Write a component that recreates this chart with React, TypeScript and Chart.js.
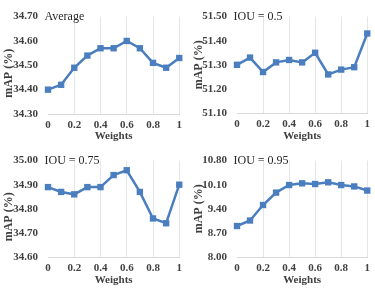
import React, { useEffect, useRef } from "react";
import { Chart, registerables } from "chart.js";
Chart.register(...registerables);

const weights = [0, 0.1, 0.2, 0.3, 0.4, 0.5, 0.6, 0.7, 0.8, 0.9, 1];
const xTicks = [0, 0.2, 0.4, 0.6, 0.8, 1];
const averageValues = [34.4, 34.42, 34.49, 34.54, 34.57, 34.57, 34.6, 34.57, 34.51, 34.49, 34.53];
const iou50Values = [51.3, 51.33, 51.27, 51.31, 51.32, 51.31, 51.35, 51.26, 51.28, 51.29, 51.43];
const iou75Values = [34.89, 34.87, 34.86, 34.89, 34.89, 34.94, 34.96, 34.87, 34.76, 34.74, 34.9];
const iou95Values = [8.9, 9.06, 9.51, 9.87, 10.09, 10.14, 10.12, 10.17, 10.09, 10.05, 9.93];
const averageTicks = [34.3, 34.4, 34.5, 34.6, 34.7];
const iou50Ticks = [51.1, 51.2, 51.3, 51.4, 51.5];
const iou75Ticks = [34.6, 34.7, 34.8, 34.9, 35.0];
const iou95Ticks = [8.0, 8.7, 9.4, 10.1, 10.8];
const panelTitles = ["Average", "IOU = 0.5", "IOU = 0.75", "IOU = 0.95"];
const xTitle = "Weights";
const yTitle = "mAP (%)";

const FONT = '"Liberation Serif", "Times New Roman", serif';
const BLUE = "#4a7ebf";
const TEXT = "#404040";

type Layout = {
  left: number; top: number; w: number; h: number;
  plotLeft: number; plotRight: number; plotTop: number; plotBottom: number;
  yTitleX: number; yTitleShift: number; xTitlePad: number;
};

function Panel({ values, ticks, title, layout }: { values: number[]; ticks: number[]; title: string; layout: Layout }) {
  const ref = useRef<HTMLCanvasElement>(null);
  useEffect(() => {
    const canvas = ref.current!;
    const overlay = {
      id: "overlay",
      afterDraw(chart: any) {
        const ctx = chart.ctx;
        const a = chart.chartArea;
        ctx.save();
        ctx.fillStyle = "#262626";
        ctx.font = `12px ${FONT}`;
        ctx.textAlign = "left";
        ctx.textBaseline = "middle";
        ctx.fillText(title, a.left - 3.5, a.top + 0.5);
        ctx.fillStyle = TEXT;
        ctx.font = `bold 12px ${FONT}`;
        ctx.translate(layout.yTitleX, (a.top + a.bottom) / 2 + layout.yTitleShift);
        ctx.rotate(-Math.PI / 2);
        ctx.textAlign = "center";
        ctx.fillText(yTitle, 0, 0);
        ctx.restore();
      },
    };
    const chart = new Chart(canvas, {
      type: "line",
      data: {
        datasets: [
          {
            data: weights.map((w, i) => ({ x: w, y: values[i] })),
            borderColor: BLUE,
            backgroundColor: BLUE,
            borderWidth: 2.5,
            pointStyle: "rect",
            pointRadius: 4.5,
            pointBorderWidth: 0,
            tension: 0,
            clip: false as any,
          },
        ],
      },
      options: {
        responsive: false,
        animation: false,
        layout: {
          padding: { left: 0, top: layout.plotTop, right: layout.w - layout.plotRight, bottom: 0 },
        },
        plugins: { legend: { display: false }, tooltip: { enabled: false }, title: { display: false } },
        scales: {
          x: {
            type: "linear",
            min: 0,
            max: 1,
            afterBuildTicks: (s: any) => { s.ticks = xTicks.map((v) => ({ value: v })); },
            afterFit: (s: any) => { s.height = layout.h - layout.plotBottom; },
            ticks: {
              padding: 5,
              color: TEXT,
              font: { family: FONT, size: 11, weight: "bold" },
              callback: (v: any) => String(Number(v)),
              maxRotation: 0,
            },
            grid: {
              drawTicks: false,
              color: (c: any) => (c.tick && c.tick.value === 0 ? "rgba(0,0,0,0)" : "#e6e6e6"),
              lineWidth: 1,
            },
            border: { display: true, color: "#d9d9d9", width: 1 },
            title: {
              display: true,
              text: xTitle,
              color: TEXT,
              font: { family: FONT, size: 11, weight: "bold" },
              padding: { top: 0, bottom: layout.xTitlePad },
            },
          },
          y: {
            type: "linear",
            min: ticks[0],
            max: ticks[ticks.length - 1],
            afterBuildTicks: (s: any) => { s.ticks = ticks.map((v) => ({ value: v })); },
            afterFit: (s: any) => { s.width = layout.plotLeft; },
            ticks: {
              padding: 10,
              color: TEXT,
              font: { family: FONT, size: 11, weight: "bold" },
              callback: (v: any) => Number(v).toFixed(2),
            },
            grid: { display: false, drawTicks: false },
            border: { display: false },
          },
        },
      },
      plugins: [overlay],
    } as any);
    return () => chart.destroy();
  }, []);
  return (
    <div style={{ position: "absolute", left: layout.left, top: layout.top, width: layout.w, height: layout.h }}>
      <canvas ref={ref} width={layout.w} height={layout.h} style={{ display: "block" }} />
    </div>
  );
}

const layouts: Layout[] = [
  { left: 0, top: 0, w: 187, h: 144, plotLeft: 48, plotRight: 180, plotTop: 12, plotBottom: 114, yTitleX: 8.5, yTitleShift: 8, xTitlePad: 1 },
  { left: 188, top: 0, w: 187, h: 144, plotLeft: 49, plotRight: 180, plotTop: 12, plotBottom: 113, yTitleX: 10.5, yTitleShift: 0, xTitlePad: 1 },
  { left: 0, top: 144, w: 187, h: 145, plotLeft: 48, plotRight: 180, plotTop: 12, plotBottom: 113, yTitleX: 8.5, yTitleShift: 8, xTitlePad: 2 },
  { left: 188, top: 144, w: 187, h: 145, plotLeft: 49, plotRight: 181, plotTop: 12, plotBottom: 113, yTitleX: 10.5, yTitleShift: 0, xTitlePad: 2 },
];

export default function App() {
  useEffect(() => {
    document.body.style.margin = "0";
    document.body.style.background = "#ffffff";
  }, []);
  const series = [averageValues, iou50Values, iou75Values, iou95Values];
  const tickSets = [averageTicks, iou50Ticks, iou75Ticks, iou95Ticks];
  return (
    <div style={{ position: "relative", width: 375, height: 289, background: "#fff", overflow: "hidden" }}>
      {layouts.map((l, i) => (
        <Panel key={i} values={series[i]} ticks={tickSets[i]} title={panelTitles[i]} layout={l} />
      ))}
    </div>
  );
}
